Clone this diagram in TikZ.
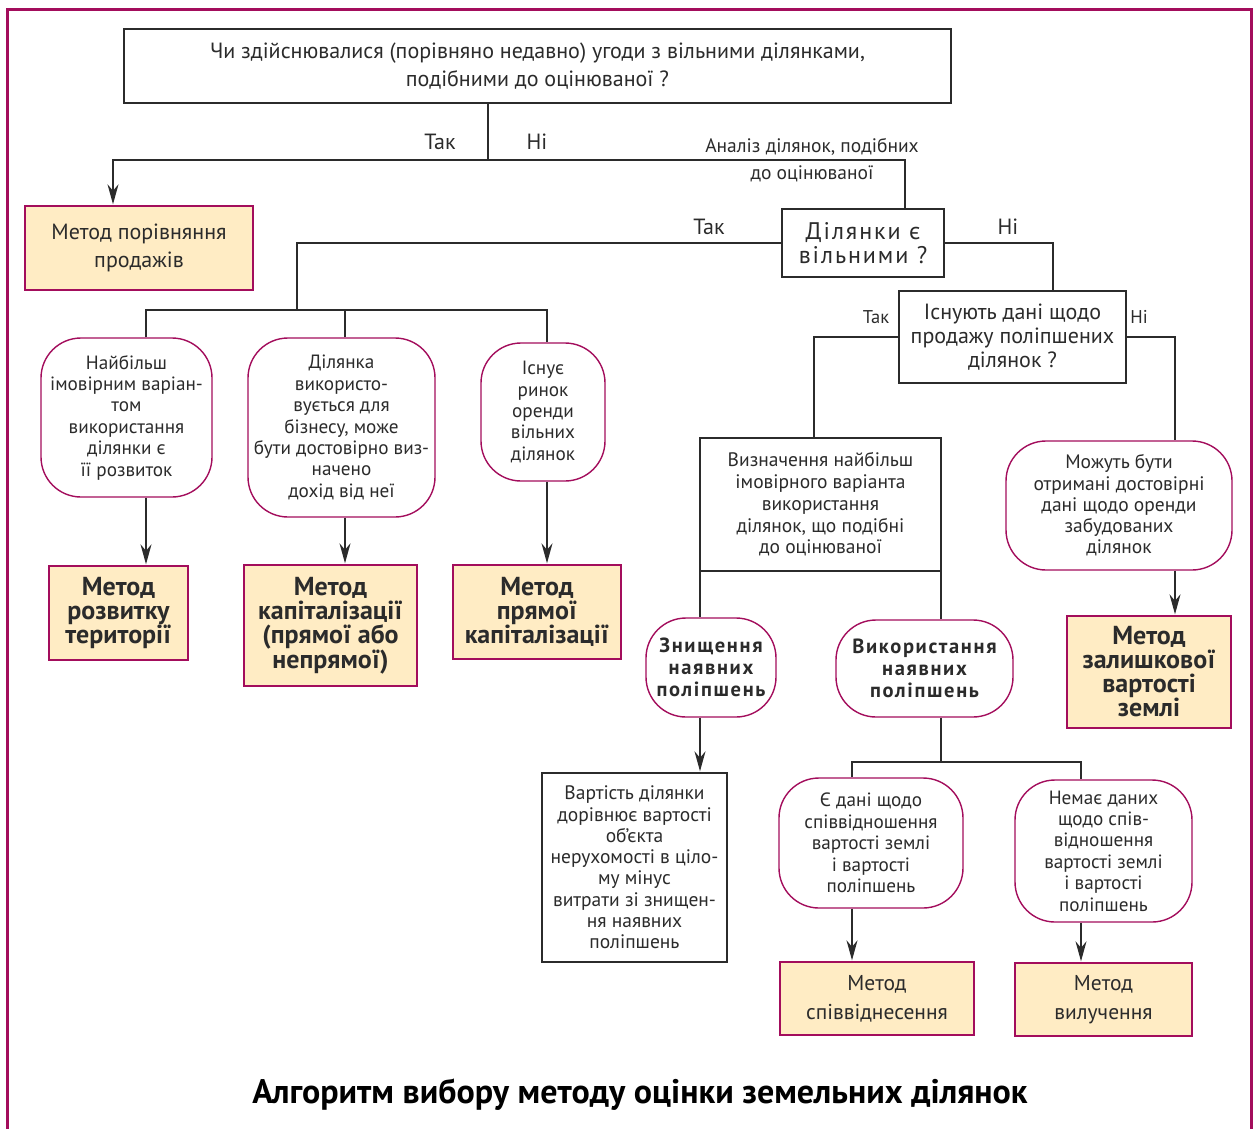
\documentclass[tikz,border=0pt]{standalone}
\usepackage{fontspec}
\setmainfont{PT Sans}
\newfontfamily\spacedbold[LetterSpace=8]{PT Sans}
\usetikzlibrary{arrows.meta}
\definecolor{crim}{HTML}{A30D5C}
\definecolor{methfill}{HTML}{FFECC4}
\definecolor{ink}{HTML}{2B2B2B}
\tikzset{
  qbox/.style={draw=ink, line width=1.4pt, fill=white, inner sep=0pt, align=center, text=ink},
  rbox/.style={draw=crim, line width=1.4pt, fill=white, rounded corners=40pt, inner sep=0pt, align=center, text=ink,
     font=\fontsize{19.2}{21.4}\selectfont},
  mbox/.style={draw=crim, line width=1.4pt, fill=methfill, inner sep=0pt, align=center, text=ink},
  mbold/.style={font=\fontsize{26}{24}\selectfont\bfseries},
  mreg/.style={font=\fontsize{21.5}{29}\selectfont},
  conn/.style={draw=ink, line width=1.4pt},
  arr/.style={conn, -{Stealth[length=20pt,width=11pt]}, shorten >=1pt},
  lbl/.style={inner sep=0pt, text=ink, font=\fontsize{22}{24}\selectfont},
  slbl/.style={inner sep=0pt, text=ink, font=\fontsize{18.5}{20}\selectfont},
  frame/.style={draw=crim, line width=3pt}
}
\begin{document}
\begin{tikzpicture}[x=1pt,y=-1pt]
\useasboundingbox (0,0) rectangle (1253,1128);
\draw[frame] (7.5,1135) -- (7.5,9.5) -- (1251,9.5) -- (1251,1135);

% nodes
\node[qbox, minimum width=827pt, minimum height=74pt, font=\fontsize{22}{28}\selectfont] (top) at (537.5,66)
  {Чи здійснювалися (порівняно недавно) угоди з вільними ділянками,\\ подібними до оцінюваної ?};
\node[mbox, minimum width=228pt, minimum height=84pt, font=\fontsize{22}{28}\selectfont] (sales) at (139,248)
  {Метод порівняння\\ продажів};
\node[qbox, minimum width=162pt, minimum height=68pt, font=\spacedbold\fontsize{24}{24}\selectfont] (free) at (863,243)
  {Ділянки є\\ вільними ?};

\node[rbox, minimum width=171pt, minimum height=159pt] (n1) at (126.5,417.5)
  {Найбільш\\ імовірним варіан-\\ том\\ використання\\ ділянки є\\ її розвиток};
\node[rbox, minimum width=187pt, minimum height=179pt] (n2) at (341.5,427.5)
  {Ділянка\\ використо-\\ вується для\\ бізнесу, може\\ бути достовірно виз-\\ начено\\ дохід від неї};
\node[rbox, minimum width=124pt, minimum height=138pt] (n3) at (543,412)
  {Існує\\ ринок\\ оренди\\ вільних\\ ділянок};

\node[mbox, mbold, minimum width=139pt, minimum height=94pt] (m1) at (118.5,613)
  {Метод\\ розвитку\\ території};
\node[mbox, mbold, minimum width=173pt, minimum height=121pt] (m2) at (330.5,625.5)
  {Метод\\ капіталізації\\ (прямої або\\ непрямої)};
\node[mbox, mbold, minimum width=168pt, minimum height=94pt] (m3) at (537,612)
  {Метод\\ прямої\\ капіталізації};

\node[qbox, minimum width=227pt, minimum height=92pt, font=\fontsize{22}{24}\selectfont] (impr) at (1012.5,337)
  {Існують дані щодо\\ продажу поліпшених\\ ділянок ?};
\node[qbox, minimum width=241pt, minimum height=133pt, font=\fontsize{19.5}{21.7}\selectfont] (hbu) at (820.5,504.5)
  {Визначення найбільш\\ імовірного варіанта\\ використання\\ ділянок, що подібні\\ до оцінюваної};
\node[rbox, minimum width=226pt, minimum height=129pt, font=\fontsize{19.5}{21.3}\selectfont] (rent) at (1119,505.5)
  {Можуть бути\\ отримані достовірні\\ дані щодо оренди\\ забудованих\\ ділянок};
\node[mbox, mbold, minimum width=164pt, minimum height=112pt] (m4) at (1149,672)
  {Метод\\ залишкової\\ вартості\\ землі};

\node[rbox, minimum width=130pt, minimum height=99pt, font=\spacedbold\fontsize{20.5}{22}\selectfont\bfseries] (demo) at (711,667.5)
  {Знищення\\ наявних\\ поліпшень};
\node[rbox, minimum width=177pt, minimum height=97pt, font=\spacedbold\fontsize{20.5}{22}\selectfont\bfseries] (use) at (924.5,668.5)
  {Використання\\ наявних\\ поліпшень};

\node[qbox, minimum width=185pt, minimum height=189pt, font=\fontsize{19.5}{21.3}\selectfont] (val) at (634.5,867.5)
  {Вартість ділянки\\ дорівнює вартості\\ об’єкта\\ нерухомості в ціло-\\ му мінус\\ витрати зі знищен-\\ ня наявних\\ поліпшень};
\node[rbox, minimum width=184pt, minimum height=130pt] (ratio) at (871,843)
  {Є дані щодо\\ співвідношення\\ вартості землі\\ і вартості\\ поліпшень};
\node[rbox, minimum width=177pt, minimum height=142pt] (noratio) at (1103.5,851)
  {Немає даних\\ щодо спів-\\ відношення\\ вартості землі\\ і вартості\\ поліпшень};

\node[mbox, mreg, minimum width=194pt, minimum height=73pt] (m5) at (877,998.5)
  {Метод\\ співвіднесення};
\node[mbox, mreg, minimum width=177pt, minimum height=73pt] (m6) at (1103.5,999.5)
  {Метод\\ вилучення};

% labels
\node[lbl] (l1) at (440,142) {Так};
\node[lbl] (l2) at (537,142) {Ні};
\node[slbl, align=center, font=\fontsize{19.5}{27}\selectfont] (l3) at (812,160) {Аналіз ділянок, подібних\\ до оцінюваної};
\node[lbl] (l4) at (709,227) {Так};
\node[lbl] (l5) at (1008,227) {Ні};
\node[slbl] (l6) at (876,317) {Так};
\node[slbl] (l7) at (1139,317) {Ні};
\node[inner sep=0pt, text=black, font=\fontsize{34}{36}\selectfont\bfseries] (title) at (640,1095)
  {Алгоритм вибору методу оцінки земельних ділянок};

% junction coordinates
\coordinate (j1) at (488,160);
\coordinate (jL) at (113,160);
\coordinate (jR) at (905,160);
\coordinate (b1) at (146,310);
\coordinate (b2) at (345,310);
\coordinate (b3) at (547,310);
\coordinate (j3) at (297,310);
\coordinate (k1) at (1053,0);
\coordinate (k2) at (814,0);
\coordinate (k3) at (1175,0);
\coordinate (d1) at (700,0);
\coordinate (u1) at (941,762);
\coordinate (r1) at (852,762);
\coordinate (r2) at (1081,762);

% connectors
\draw[conn] (top.south -| j1) -- (j1);
\draw[arr] (free.north -| jR) -- (jR) -- (jL) -- (sales.north -| jL);
\draw[conn] (free.west) -| (j3);
\draw[conn] (n1.north -| b1) -- (b1) -- (b3) -- (n3.north -| b3);
\draw[conn] (n2.north -| b2) -- (b2);
\draw[arr] (n1.south -| b1) -- (m1.north -| b1);
\draw[arr] (n2.south -| b2) -- (m2.north -| b2);
\draw[arr] (n3.south -| b3) -- (m3.north -| b3);

\draw[conn] (free.east) -| (impr.north -| k1);
\draw[conn] (impr.west) -| (hbu.north -| k2);
\draw[conn] (impr.east) -| (rent.north -| k3);
\draw[arr] (rent.south -| k3) -- (m4.north -| k3);

\draw[conn] (hbu.south -| d1) -- (demo.north -| d1);
\draw[conn] (hbu.south -| u1) -- (use.north -| u1);
\draw[arr] (demo.south -| d1) -- (val.north -| d1);
\draw[conn] (use.south -| u1) -- (u1);
\draw[conn] (ratio.north -| r1) -- (r1) -- (r2) -- (noratio.north -| r2);
\draw[arr] (ratio.south -| r1) -- (m5.north -| r1);
\draw[arr] (noratio.south -| r2) -- (m6.north -| r2);
\end{tikzpicture}
\end{document}
